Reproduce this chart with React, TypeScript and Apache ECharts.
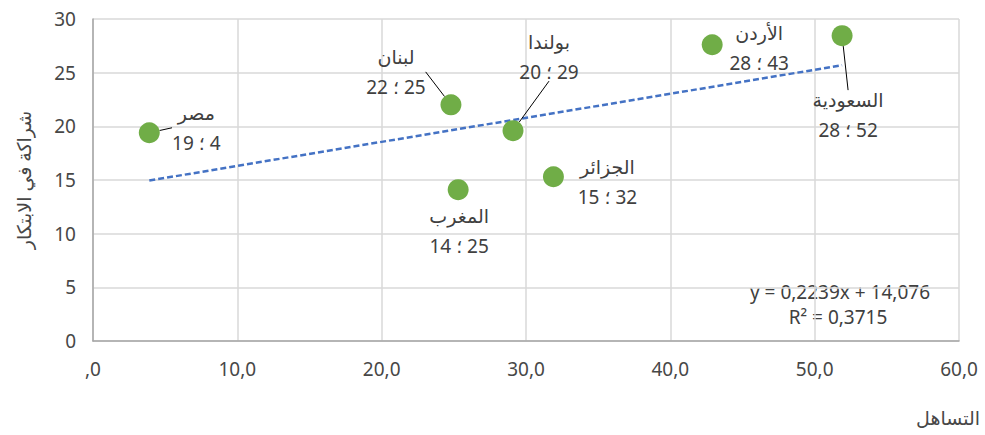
import React, { useEffect, useRef } from "react";
import * as echarts from "echarts";

// Countries with their "التساهل" (x) and "شراكة في الابتكار" (y) scores
const countries = ["مصر", "لبنان", "بولندا", "الجزائر", "المغرب", "الأردن", "السعودية"];
const tolerance = [3.9, 24.8, 29.1, 31.9, 25.3, 42.9, 51.9];
const partnership = [19.4, 22.0, 19.6, 15.3, 14.1, 27.6, 28.45];

// Linear trend line coefficients and fit
const trendSlope = 0.2239;
const trendIntercept = 14.076;
const rSquared = 0.3715;

const xTickLabels = [",0", "10,0", "20,0", "30,0", "40,0", "50,0", "60,0"];
const yTickLabels = ["0", "5", "10", "15", "20", "25", "30"];

const xTitle = "التساهل";
const yTitle = "شراكة في الابتكار";

// Where each data label sits relative to its marker, and whether it has a leader line
const labelOffsets: [number, number][] = [
  [47, -5],
  [-55, -33],
  [36, -74],
  [54, 5],
  [1, 41],
  [47, 3],
  [6, 79],
];
const leaderLines = [true, true, true, false, false, false, true];

const FONT = "'Noto Sans', 'DejaVu Sans', sans-serif";
const FONT_SIZE = 19;
const AXIS_TEXT = "#474747";
const LABEL_TEXT = "#404040";

const fmtComma = (v: number) => String(v).replace(".", ",");

export default function App() {
  const ref = useRef<HTMLDivElement>(null);

  useEffect(() => {
    if (!ref.current) return;
    const chart = echarts.init(ref.current, undefined, { renderer: "svg" });

    const points = countries.map((name, i) => ({
      name,
      value: [tolerance[i], partnership[i]],
      labelLine: { show: leaderLines[i] },
    }));

    const xMin = Math.min(...tolerance);
    const xMax = Math.max(...tolerance);
    const trend = [
      [xMin, trendSlope * xMin + trendIntercept],
      [xMax, trendSlope * xMax + trendIntercept],
    ];

    chart.setOption({
      animation: false,
      textStyle: { fontFamily: FONT },
      grid: {
        left: 93,
        right: 26,
        top: 19,
        bottom: 94,
        outerBoundsMode: "none",
      },
      xAxis: {
        type: "value",
        min: 0,
        max: 60,
        interval: 10,
        axisLine: { show: true, lineStyle: { color: "#A6A6A6", width: 1.5 } },
        axisTick: { show: false },
        splitLine: { show: true, lineStyle: { color: "#D9D9D9", width: 1.5 } },
        axisLabel: {
          fontSize: FONT_SIZE,
          color: AXIS_TEXT,
          margin: 18,
          formatter: (v: number) => xTickLabels[Math.round(v / 10)] ?? "",
        },
      },
      yAxis: {
        type: "value",
        min: 0,
        max: 30,
        interval: 5,
        name: yTitle,
        nameLocation: "middle",
        nameGap: 60,
        nameTextStyle: { fontSize: FONT_SIZE, color: AXIS_TEXT },
        axisLine: { show: true, lineStyle: { color: "#A6A6A6", width: 1.5 } },
        axisTick: { show: false },
        splitLine: { show: true, lineStyle: { color: "#D9D9D9", width: 1.5 } },
        axisLabel: {
          fontSize: FONT_SIZE,
          color: AXIS_TEXT,
          margin: 17,
          formatter: (v: number) => yTickLabels[Math.round(v / 5)] ?? "",
        },
      },
      series: [
        {
          type: "line",
          data: trend,
          showSymbol: false,
          symbol: "none",
          silent: true,
          z: 1,
          lineStyle: { color: "#4472C4", width: 2.5, type: [6, 3] },
        },
        {
          type: "scatter",
          data: points,
          symbol: "circle",
          symbolSize: 21,
          z: 3,
          itemStyle: { color: "#70AD47", opacity: 1 },
          label: {
            show: true,
            position: "inside",
            align: "center",
            verticalAlign: "middle",
            formatter: (p: any) =>
              `{n|${p.name}}\n{v|\u200F${Math.round(p.value[0])} ؛ ${Math.round(p.value[1])}}`,
            rich: {
              n: { fontSize: FONT_SIZE, lineHeight: 30, color: LABEL_TEXT, fontFamily: FONT },
              v: { fontSize: FONT_SIZE, lineHeight: 30, color: LABEL_TEXT, fontFamily: FONT },
            },
          },
          labelLayout: (params: any) => ({
            dx: labelOffsets[params.dataIndex][0],
            dy: labelOffsets[params.dataIndex][1],
          }),
          labelLine: {
            show: false,
            lineStyle: { color: "#000000", width: 1 },
          },
        },
      ],
      graphic: [
        {
          type: "text",
          x: 840,
          y: 292,
          style: {
            text: `y = ${fmtComma(trendSlope)}x + ${fmtComma(trendIntercept)}`,
            fontSize: FONT_SIZE,
            fontFamily: FONT,
            fill: LABEL_TEXT,
            align: "center",
            verticalAlign: "middle",
          },
        },
        {
          type: "text",
          x: 838,
          y: 317,
          style: {
            text: `R² = ${fmtComma(rSquared)}`,
            fontSize: FONT_SIZE,
            fontFamily: FONT,
            fill: LABEL_TEXT,
            align: "center",
            verticalAlign: "middle",
          },
        },
        {
          type: "text",
          right: 5,
          top: 408,
          style: {
            text: xTitle,
            fontSize: FONT_SIZE,
            fontFamily: FONT,
            fill: AXIS_TEXT,
          },
        },
      ],
    });

    return () => chart.dispose();
  }, []);

  return (
    <div
      ref={ref}
      style={{ position: "fixed", left: 0, top: 0, width: 985, height: 435, background: "#ffffff" }}
    />
  );
}
